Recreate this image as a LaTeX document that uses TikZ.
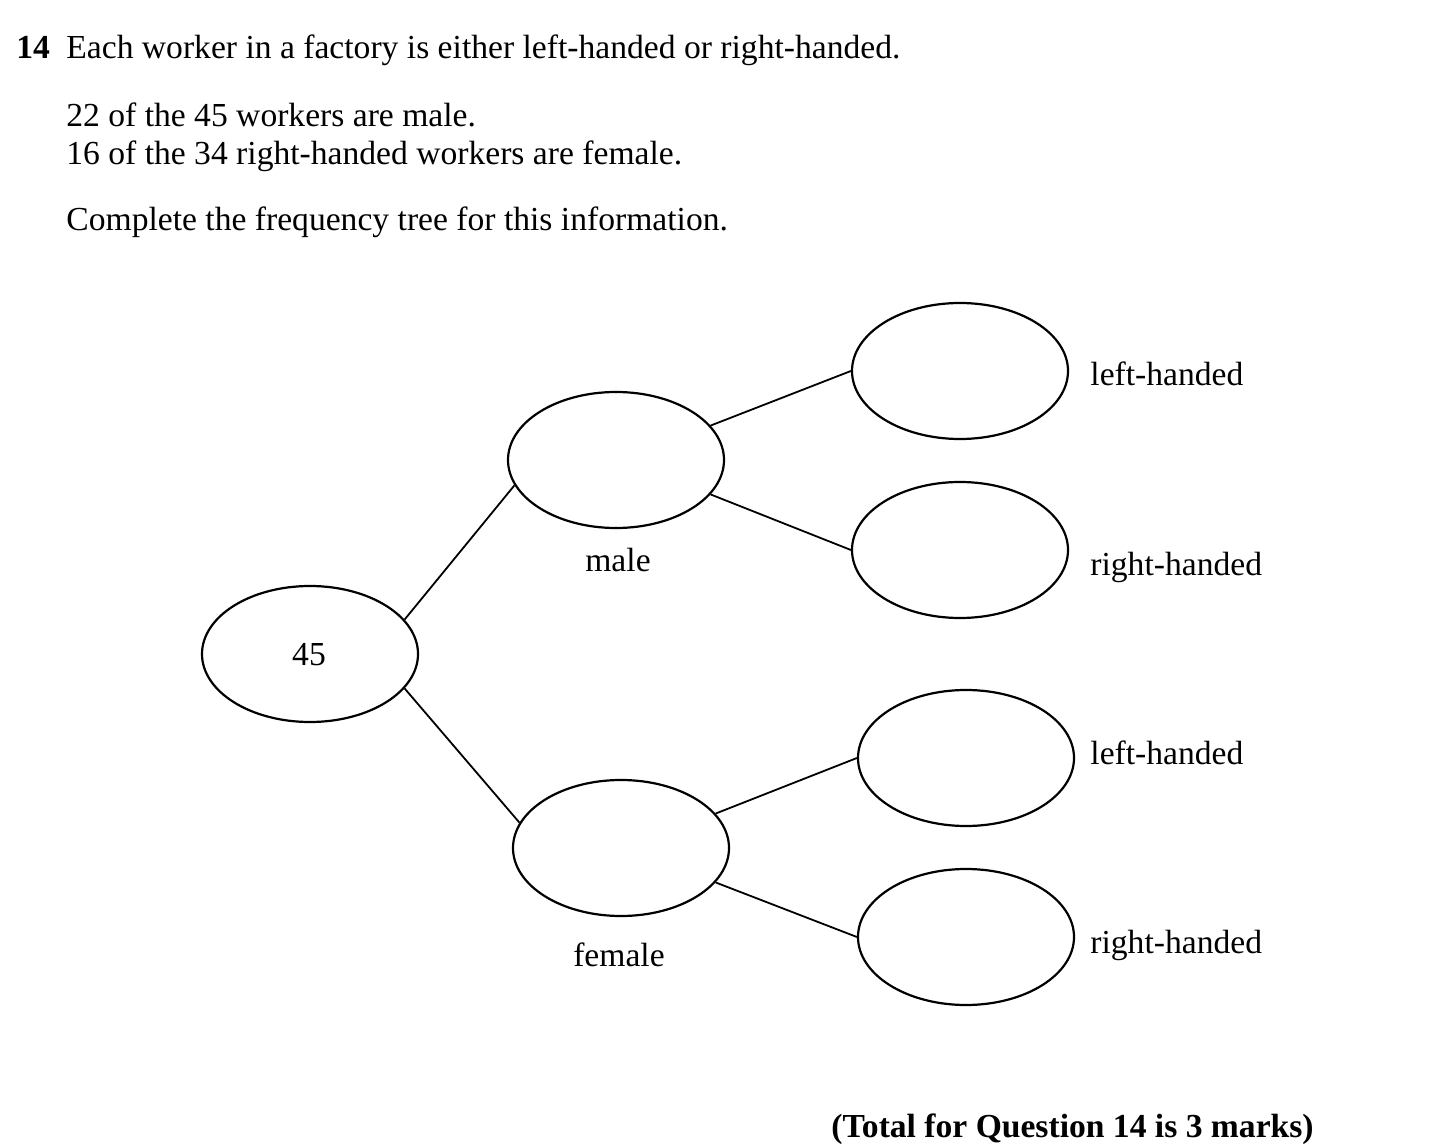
\documentclass[tikz,border=0pt]{standalone}
\usepackage{fontspec}
\setmainfont{Liberation Serif}
\usetikzlibrary{shapes.geometric}
\begin{document}
\begin{tikzpicture}[x=0.5pt,y=-0.5pt,
  every node/.style={font=\fontsize{16.8}{20}\selectfont},
  oval/.style={ellipse,draw,line width=1.1pt,minimum width=108pt,minimum height=68pt,inner sep=0pt},
  txt/.style={inner sep=0pt,anchor=base west},
  ctxt/.style={inner sep=0pt,anchor=base},
  branch/.style={line width=0.9pt}]
\useasboundingbox (0,0) rectangle (1446,1144);
\node[txt] (qn) at (16,59) {\bfseries 14};
\node[txt] (l1) at (66,59) {Each worker in a factory is either left-handed or right-handed.};
\node[txt] (l2) at (66,127) {22 of the 45 workers are male.};
\node[txt] (l3) at (66,165) {16 of the 34 right-handed workers are female.};
\node[txt] (l4) at (66,231) {Complete the frequency tree for this information.};

\node[oval] (root) at (310,654) {};
\node[ctxt] (rootlab) at (309,665) {45};
\node[oval] (male) at (616,460) {};
\node[oval] (female) at (621,848) {};
\node[oval] (ml) at (960,371) {};
\node[oval] (mr) at (960,550) {};
\node[oval] (fl) at (966,758) {};
\node[oval] (fr) at (966,937) {};

\node[ctxt] (malelab) at (618,571) {male};
\node[ctxt] (femalelab) at (619,966) {female};
\node[txt] (mll) at (1090,386) {left-handed};
\node[txt] (mrl) at (1090,575) {right-handed};
\node[txt] (fll) at (1090,764) {left-handed};
\node[txt] (frl) at (1090,953) {right-handed};

\draw[branch] (root.20) -- (male.194);
\draw[branch] (root.340) -- (female.166);
\draw[branch] (male.20) -- (ml.180);
\draw[branch] (male.340) -- (mr.180);
\draw[branch] (female.20) -- (fl.180);
\draw[branch] (female.340) -- (fr.180);

\node[txt] (total) at (831,1137) {\bfseries (Total for Question 14 is 3 marks)};
\end{tikzpicture}
\end{document}
